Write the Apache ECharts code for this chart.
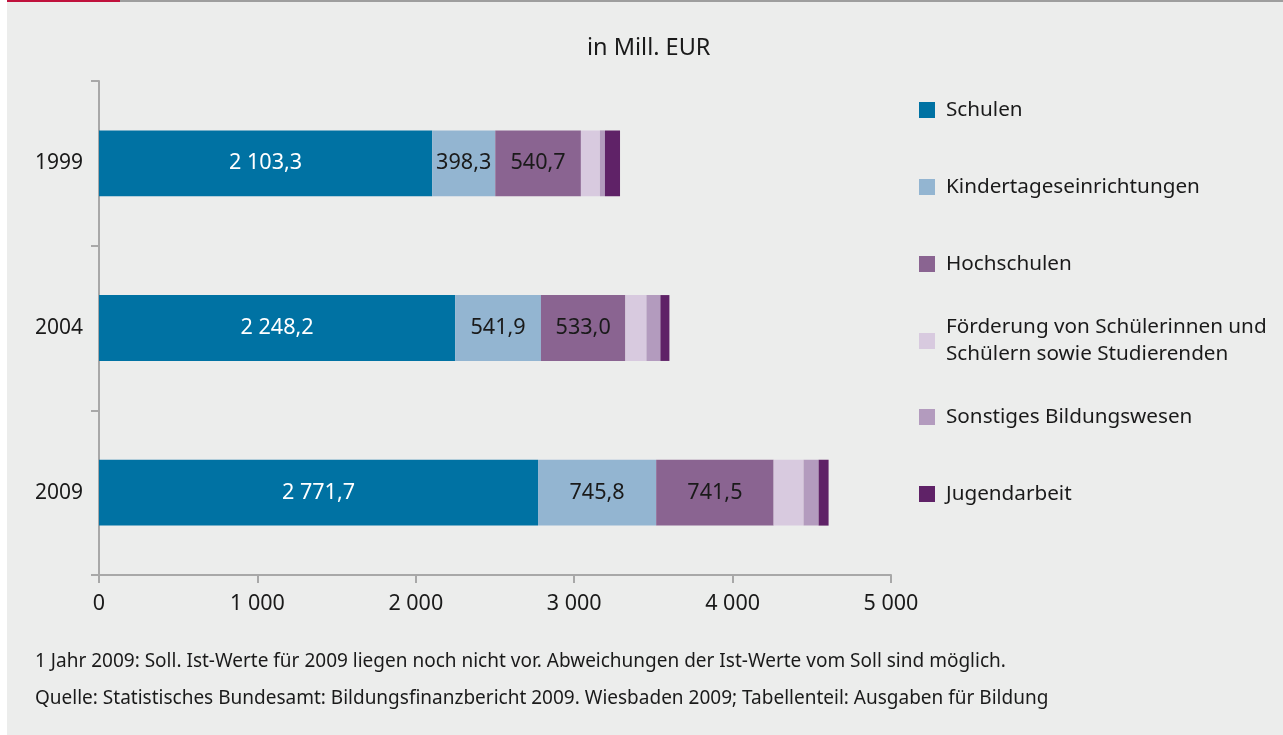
<!DOCTYPE html>
<html>
<head>
<meta charset="utf-8">
<script src="https://cdn.jsdelivr.net/npm/echarts@6/dist/echarts.min.js"></script>
<style>
html,body{margin:0;padding:0;background:#ffffff;}
#chart{width:1283px;height:735px;}
</style>
</head>
<body>
<div id="chart"></div>
<script>
const categories = ['1999', '2004', '2009'];
const seriesNames = [
  'Schulen',
  'Kindertageseinrichtungen',
  'Hochschulen',
  'Förderung von Schülerinnen und Schülern sowie Studierenden',
  'Sonstiges Bildungswesen',
  'Jugendarbeit'
];
const schulen = [2103.3, 2248.2, 2771.7];
const kindertageseinrichtungen = [398.3, 541.9, 745.8];
const hochschulen = [540.7, 533.0, 741.5];
const foerderung = [120, 133, 189];
const sonstiges = [32, 88, 95];
const jugendarbeit = [95, 57, 63];
const xTicks = [0, 1000, 2000, 3000, 4000, 5000];
const titleText = 'in Mill. EUR';
const footnote1 = '1 Jahr 2009: Soll. Ist-Werte für 2009 liegen noch nicht vor. Abweichungen der Ist-Werte vom Soll sind möglich.';
const footnote2 = 'Quelle: Statistisches Bundesamt: Bildungsfinanzbericht 2009. Wiesbaden 2009; Tabellenteil: Ausgaben für Bildung';

const values = [schulen, kindertageseinrichtungen, hochschulen, foerderung, sonstiges, jugendarbeit];
const colors = ['#0072a3', '#93b5d1', '#8a6491', '#d8cadf', '#b39bbe', '#5f2267'];
const labelColors = ['#ffffff', '#1a1a1a', '#1a1a1a', null, null, null];
const FONT = '"Noto Sans", "Open Sans", sans-serif';

function fmtThousands(v, dec) {
  const s = v.toFixed(dec);
  const parts = s.split('.');
  const intPart = parts[0].replace(/\B(?=(\d{3})+(?!\d))/g, ' ');
  return parts.length > 1 ? intPart + ',' + parts[1] : intPart;
}

const chart = echarts.init(document.getElementById('chart'), null, {renderer: 'canvas'});

const legendCenters = [110, 187, 264, 341, 417, 494];
const LH = 27;
const legends = seriesNames.map((name, i) => {
  const two = i === 3;
  return {
    data: [name],
    orient: 'vertical',
    left: 919,
    top: two ? legendCenters[i] - 40.5 : legendCenters[i] - LH / 2,
    padding: 0,
    itemWidth: 16,
    itemHeight: 16,
    icon: 'rect',
    selectedMode: false,
    formatter: two ? 'Förderung von Schülerinnen und\nSchülern sowie Studierenden' : '{name}',
    textStyle: {
      fontFamily: FONT,
      fontSize: 20.7,
      color: '#1a1a1a',
      lineHeight: LH,
      padding: two ? [LH, 0, 0, 6] : [0, 0, 0, 6]
    }
  };
});

const series = seriesNames.map((name, i) => ({
  name: name,
  type: 'bar',
  stack: 'total',
  barWidth: '40%',
  data: values[i],
  itemStyle: {color: colors[i]},
  label: labelColors[i] ? {
    show: true,
    position: 'inside',
    color: labelColors[i],
    fontFamily: FONT,
    fontSize: 21.6,
    formatter: p => fmtThousands(p.value, 1)
  } : {show: false},
  emphasis: {disabled: true}
}));

chart.setOption({
  animation: false,
  backgroundColor: 'transparent',
  graphic: [
    {type: 'rect', z: -10, silent: true, shape: {x: 7, y: 0, width: 1276, height: 735}, style: {fill: '#ecedec'}},
    {type: 'rect', z: -9, silent: true, shape: {x: 7, y: 0, width: 113, height: 2}, style: {fill: '#c0113c'}},
    {type: 'rect', z: -9, silent: true, shape: {x: 120, y: 0, width: 1163, height: 2}, style: {fill: '#9e9e9e'}},
    {type: 'text', left: 35, top: 652, style: {text: footnote1, font: '19px ' + FONT, fill: '#1a1a1a'}},
    {type: 'text', left: 35, top: 689, style: {text: footnote2, font: '19px ' + FONT, fill: '#1a1a1a'}}
  ],
  title: {
    text: titleText,
    left: 587,
    top: 36,
    padding: 0,
    textStyle: {fontFamily: FONT, fontSize: 23.5, fontWeight: 'normal', color: '#1a1a1a'}
  },
  legend: legends,
  grid: {left: 99, right: 392, top: 81, bottom: 160, containLabel: false},
  xAxis: {
    type: 'value',
    min: 0,
    max: 5000,
    interval: 1000,
    axisLine: {show: true, lineStyle: {color: '#a8a8a8', width: 2}},
    axisTick: {show: true, length: 8, lineStyle: {color: '#a8a8a8', width: 2}},
    splitLine: {show: false},
    axisLabel: {
      margin: 18,
      fontFamily: FONT,
      fontSize: 21.5,
      color: '#1a1a1a',
      formatter: v => fmtThousands(v, 0)
    }
  },
  yAxis: {
    type: 'category',
    data: categories,
    inverse: true,
    axisLine: {show: true, lineStyle: {color: '#a8a8a8', width: 2}},
    axisTick: {show: true, length: 8, lineStyle: {color: '#a8a8a8', width: 2}},
    axisLabel: {margin: 16, fontFamily: FONT, fontSize: 21, color: '#1a1a1a'}
  },
  series: series
});
</script>
</body>
</html>
